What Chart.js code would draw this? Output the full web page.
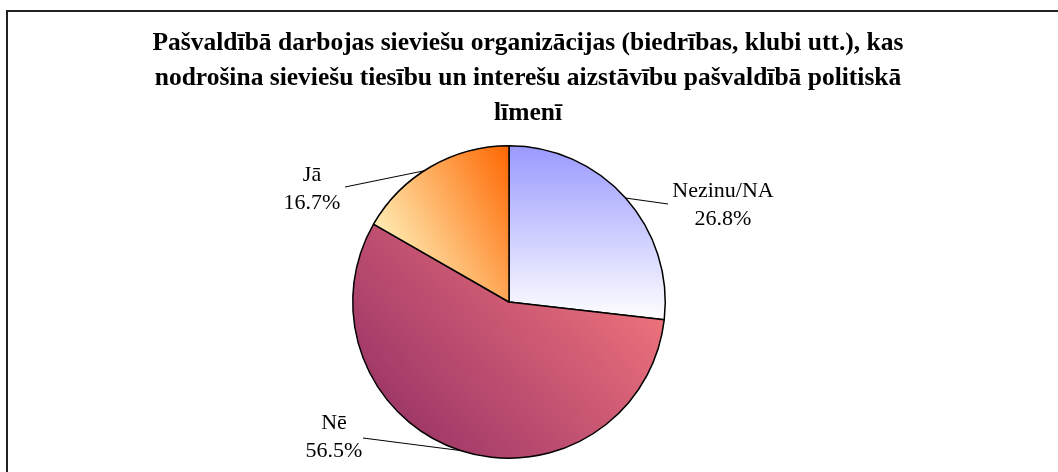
<!DOCTYPE html>
<html>
<head>
<meta charset="utf-8">
<script src="https://cdn.jsdelivr.net/npm/chart.js@4/dist/chart.umd.min.js"></script>
<style>
  html, body { margin: 0; padding: 0; background: #fff; }
  #wrap { width: 1058px; height: 472px; position: relative; }
</style>
</head>
<body>
<div id="wrap"><canvas id="c"></canvas></div>
<script>
const titleLines = [
  "Pašvaldībā darbojas sieviešu organizācijas (biedrības, klubi utt.), kas",
  "nodrošina sieviešu tiesību un interešu aizstāvību pašvaldībā politiskā",
  "līmenī"
];
const categories = ["Nezinu/NA", "Nē", "Jā"];
const values = [26.8, 56.5, 16.7];
const valueLabels = ["26.8%", "56.5%", "16.7%"];

// styling: gradient stops per slice [from, to], and direction endpoints (in radius units relative to centre)
const gradStyles = [
  { c0: "#9999ff", c1: "#ffffff", p0: [0, -1], p1: [0, 0.12] },
  { c0: "#ff8080", c1: "#993366", p0: [1, -0.5], p1: [-0.65, 1] },
  { c0: "#ff6600", c1: "#ffffcc", p0: [0, -1], p1: [-1, -0.45] }
];
// label layout (offsets from pie centre, px): edge angle (deg), line end, text centre
const labelLayout = [
  { ang: -41.7, lx: 159, ly: -98, tx: 214, ty: -111 },
  { ang: 108,   lx: -146, ly: 136, tx: -175, ty: 121 },
  { ang: -122.9, lx: -164, ly: -115, tx: -197, ty: -127 }
];

const framePlugin = {
  id: 'frameTitle',
  beforeDraw(chart) {
    const ctx = chart.ctx;
    ctx.save();
    ctx.fillStyle = '#fff';
    ctx.fillRect(0, 0, chart.width, chart.height);
    ctx.strokeStyle = '#222';
    ctx.lineWidth = 2;
    ctx.strokeRect(7, 11, 1070, 480);
    ctx.fillStyle = '#000';
    ctx.font = 'bold 25.5px "Liberation Serif"';
    ctx.textAlign = 'center';
    ctx.textBaseline = 'middle';
    titleLines.forEach((t, i) => ctx.fillText(t, 528, 43 + i * 35));
    ctx.restore();
  },
  afterDraw(chart) {
    const ctx = chart.ctx;
    const meta = chart.getDatasetMeta(0);
    ctx.save();
    ctx.font = '22px "Liberation Serif"';
    ctx.fillStyle = '#000';
    ctx.strokeStyle = '#000';
    ctx.lineWidth = 1;
    ctx.textAlign = 'center';
    ctx.textBaseline = 'middle';
    meta.data.forEach((arc, i) => {
      const L = labelLayout[i];
      const cx = arc.x, cy = arc.y, r = arc.outerRadius;
      const a = L.ang * Math.PI / 180;
      ctx.beginPath();
      ctx.moveTo(cx + Math.cos(a) * r, cy + Math.sin(a) * r);
      ctx.lineTo(cx + L.lx, cy + L.ly);
      ctx.stroke();
      ctx.fillText(categories[i], cx + L.tx, cy + L.ty);
      ctx.fillText(valueLabels[i], cx + L.tx, cy + L.ty + 28);
    });
    ctx.restore();
  }
};

function sliceFill(context) {
  const chart = context.chart;
  const area = chart.chartArea;
  if (!area) return '#ccc';
  const cx = (area.left + area.right) / 2;
  const cy = (area.top + area.bottom) / 2;
  const r = Math.min(area.right - area.left, area.bottom - area.top) / 2;
  const g = gradStyles[context.dataIndex];
  const grad = chart.ctx.createLinearGradient(
    cx + g.p0[0] * r, cy + g.p0[1] * r, cx + g.p1[0] * r, cy + g.p1[1] * r);
  grad.addColorStop(0, g.c0);
  grad.addColorStop(1, g.c1);
  return grad;
}

new Chart(document.getElementById('c'), {
  type: 'pie',
  data: {
    labels: categories,
    datasets: [{
      data: values,
      backgroundColor: sliceFill,
      borderColor: '#000',
      borderWidth: 1.5
    }]
  },
  options: {
    responsive: true,
    maintainAspectRatio: false,
    animation: false,
    layout: { padding: { top: 145, bottom: 13, left: 352, right: 392 } },
    plugins: {
      legend: { display: false },
      title: { display: false },
      tooltip: { enabled: false }
    }
  },
  plugins: [framePlugin]
});
</script>
</body>
</html>
